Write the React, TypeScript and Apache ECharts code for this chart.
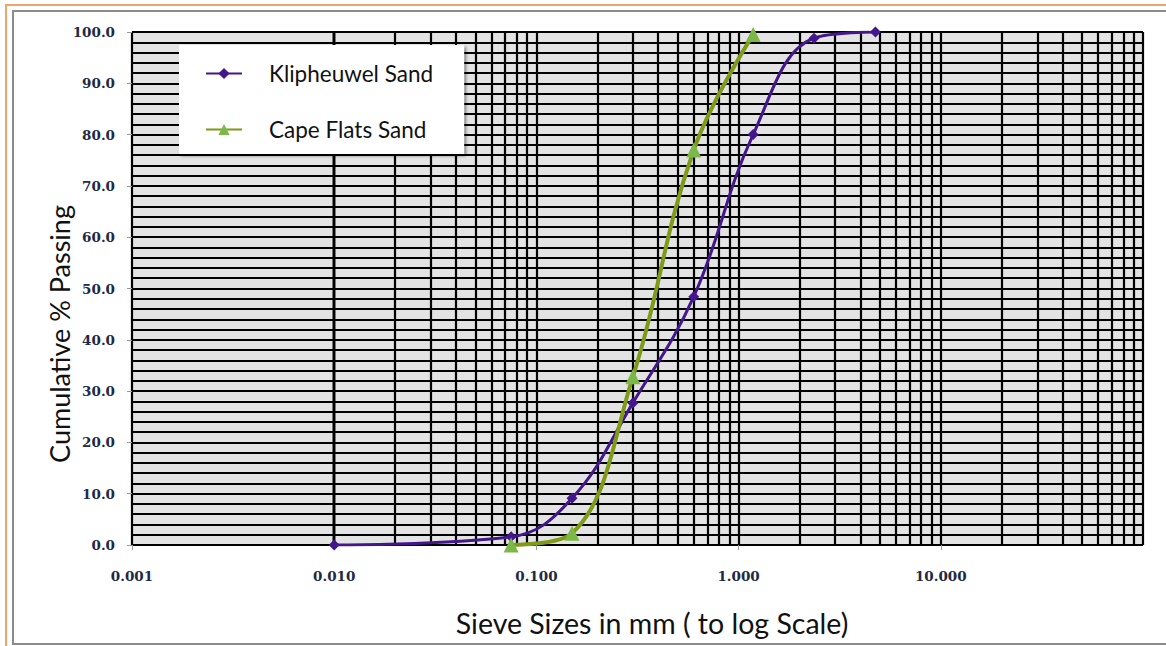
import React, { useEffect, useRef } from "react";
import * as echarts from "echarts";

const klipSizes = [0.01, 0.075, 0.15, 0.3, 0.6, 1.18, 2.36, 4.75];
const klipPassing = [0, 1.6, 9.1, 27.7, 48.4, 80, 98.8, 100];
const capeSizes = [0.075, 0.15, 0.3, 0.6, 1.18];
const capePassing = [0, 2.3, 32.8, 77, 99.5];
const seriesNames = ["Klipheuwel Sand", "Cape Flats Sand"];
const decades = [0.001, 0.01, 0.1, 1, 10];
const subMultipliers = [2, 3, 4, 5, 6, 7, 8, 9];
const yTicks = { min: 0, max: 100, interval: 10 };

const minorGrid: number[] = [];
decades.forEach((d) => subMultipliers.forEach((m) => minorGrid.push(+(d * m).toPrecision(3))));

const labelFont = "DejaVu Serif";
const titleFont = "Lato";

export default function App() {
  const ref = useRef<HTMLDivElement>(null);
  useEffect(() => {
    if (!ref.current) return;
    const chart = echarts.init(ref.current, undefined, { renderer: "svg" });
    const gridLine = { color: "#000000", width: 2.2 };
    chart.setOption({
      animation: false,
      backgroundColor: "#ffffff",
      grid: {
        left: 132,
        right: 23,
        top: 32,
        bottom: 101,
        show: true,
        backgroundColor: "#e3e3e3",
        borderColor: "#7a7a7a",
        borderWidth: 1,
      },
      legend: {
        data: seriesNames,
        orient: "vertical",
        left: 179,
        top: 45,
        z: 50,
        padding: [17, 31, 13, 26],
        itemGap: 33,
        itemWidth: 36,
        itemHeight: 14,
        backgroundColor: "#ffffff",
        shadowColor: "rgba(0,0,0,0.45)",
        shadowBlur: 3,
        shadowOffsetX: 2,
        shadowOffsetY: 2,
        textStyle: {
          fontFamily: titleFont,
          fontSize: 22.5,
          lineHeight: 20,
          color: "#111",
          padding: [0, 0, 0, 22],
        },
      },
      xAxis: {
        type: "log",
        logBase: 10,
        min: 0.001,
        max: 100,
        axisLine: { show: false },
        axisTick: { show: true, length: 5, lineStyle: { color: "#999" } },
        axisLabel: {
          margin: 24,
          fontFamily: labelFont,
          fontWeight: "bold",
          fontSize: 13.5,
          color: "#1e2a44",
          showMaxLabel: false,
          formatter: (v: number) => (v >= 100 ? "" : v.toFixed(3)),
        },
        splitLine: { show: true, lineStyle: gridLine },
      },
      yAxis: {
        type: "value",
        min: yTicks.min,
        max: yTicks.max,
        interval: yTicks.interval,
        axisLine: { show: false },
        axisTick: { show: true, length: 5, lineStyle: { color: "#999" } },
        axisLabel: {
          margin: 17,
          fontFamily: labelFont,
          fontWeight: "bold",
          fontSize: 13.5,
          color: "#1e2a44",
          formatter: (v: number) => v.toFixed(1),
        },
        splitLine: { show: true, lineStyle: gridLine },
        minorTick: { show: false, splitNumber: 5 },
        minorSplitLine: { show: true, lineStyle: gridLine },
      },
      graphic: [
        {
          type: "rect",
          silent: true,
          shape: { x: 6, y: 5, width: 1170, height: 700 },
          style: { fill: "none", stroke: "#f2a36b", lineWidth: 2 },
        },
        {
          type: "rect",
          silent: true,
          shape: { x: 13, y: 11, width: 1165, height: 633 },
          style: { fill: "none", stroke: "#8c8c8c", lineWidth: 2 },
        },
        {
          type: "text",
          silent: true,
          x: 59,
          y: 334,
          rotation: Math.PI / 2,
          style: {
            text: "Cumulative % Passing",
            fontFamily: titleFont,
            fontSize: 27,
            fill: "#111",
            align: "center",
            verticalAlign: "middle",
          },
        },
        {
          type: "text",
          silent: true,
          x: 652,
          y: 623,
          style: {
            text: "Sieve Sizes in mm ( to log Scale)",
            fontFamily: titleFont,
            fontSize: 28.5,
            fill: "#111",
            align: "center",
            verticalAlign: "middle",
          },
        },
      ],
      series: [
        {
          type: "line",
          name: "grid",
          data: [],
          z: 1,
          silent: true,
          markLine: {
            silent: true,
            symbol: ["none", "none"],
            label: { show: false },
            lineStyle: { color: "#000000", width: 2.2, type: "solid" },
            emphasis: { disabled: true },
            data: minorGrid.map((v) => ({ xAxis: v })),
          },
        },
        {
          type: "line",
          name: seriesNames[0],
          z: 5,
          smooth: 0.4,
          data: klipSizes.map((s, i) => [s, klipPassing[i]]),
          symbol: "diamond",
          symbolSize: 11,
          itemStyle: { color: "#44168c" },
          lineStyle: { color: "#44168c", width: 3 },
        },
        {
          type: "line",
          name: seriesNames[1],
          z: 6,
          smooth: 0.4,
          data: capeSizes.map((s, i) => [s, capePassing[i]]),
          symbol: "triangle",
          symbolSize: 15,
          itemStyle: { color: "#7cb848" },
          lineStyle: { color: "#7f9a17", width: 4 },
        },
      ],
    });
    return () => chart.dispose();
  }, []);
  return (
    <div
      ref={ref}
      style={{ position: "fixed", left: 0, top: 0, width: 1166, height: 646 }}
    />
  );
}
